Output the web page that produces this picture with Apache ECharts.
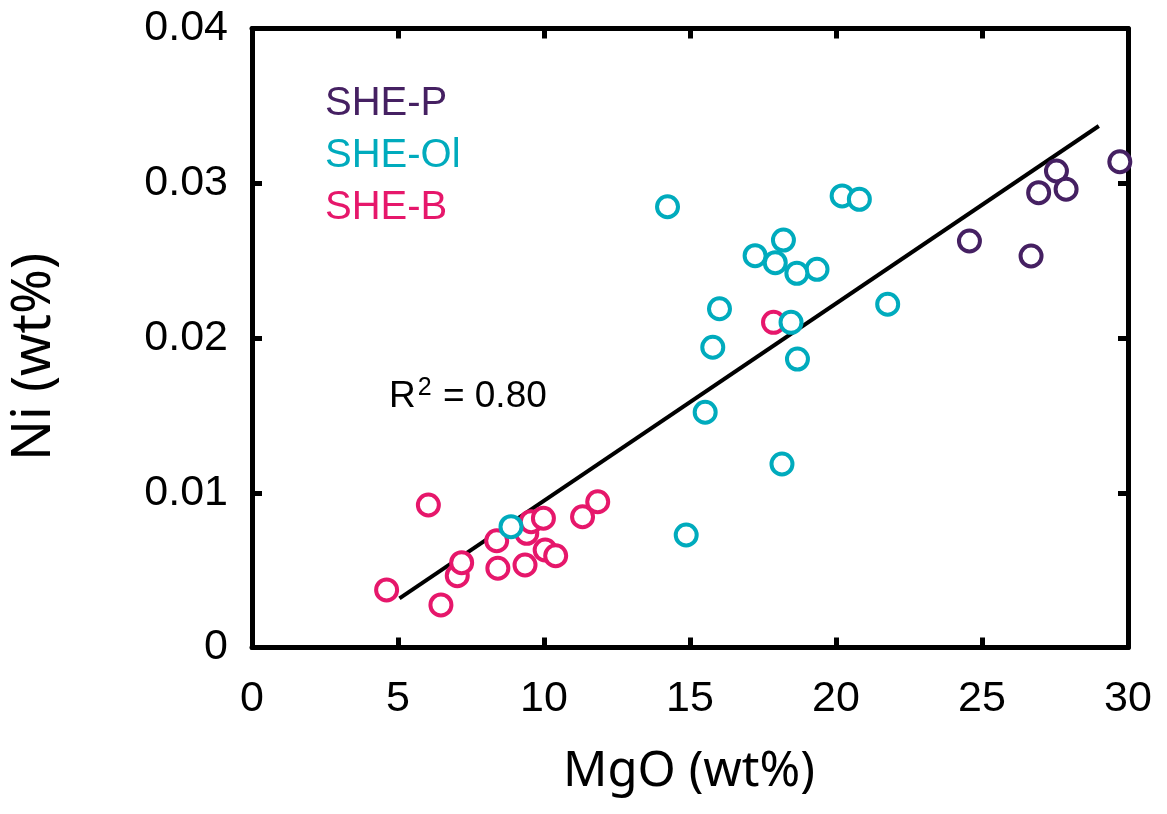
<!DOCTYPE html>
<html>
<head>
<meta charset="utf-8">
<title>Ni vs MgO</title>
<script src="https://cdn.jsdelivr.net/npm/echarts@6/dist/echarts.min.js"></script>
<style>
  html, body { margin: 0; padding: 0; background: #fff; }
  #chart { width: 1167px; height: 814px; }
</style>
</head>
<body>
<div id="chart"></div>
<script>
// MgO (wt%) / Ni (wt%)
const shePMgO = [24.57, 26.68, 26.94, 27.55, 27.88, 29.72]
const shePNi = [0.02627, 0.02530, 0.02939, 0.03079, 0.02961, 0.03139]

const sheBMgO = [4.61, 6.04, 6.47, 7.03, 7.18, 8.42, 8.38, 9.35, 9.41, 9.56, 9.98, 10.04, 10.40, 11.32, 11.84, 17.86]
const sheBNi = [0.00372, 0.00921, 0.00275, 0.00464, 0.00548, 0.00512, 0.00690, 0.00533, 0.00738, 0.00813, 0.00835, 0.00630, 0.00593, 0.00845, 0.00942, 0.02101]

const sheOlMgO = [8.87, 14.23, 14.87, 15.52, 15.78, 16.01, 17.23, 17.92, 18.20, 19.35, 18.66, 18.15, 18.68, 18.46, 20.21, 20.80, 21.77]
const sheOlNi = [0.00781, 0.02848, 0.00727, 0.01520, 0.01940, 0.02189, 0.02532, 0.02487, 0.02633, 0.02444, 0.02418, 0.01186, 0.01864, 0.02101, 0.02918, 0.02896, 0.02218]

// regression line end points
const fitMgO = [5.05, 29.0]
const fitNi = [0.00318, 0.0337]

const xTicks = [0, 5, 10, 15, 20, 25, 30]
const yTicks = [0, 0.01, 0.02, 0.03, 0.04]

const groupNames = ['SHE-P', 'SHE-Ol', 'SHE-B']
const groupColors = ['#452062', '#00abbd', '#e6176b']

function zip(xs, ys) {
  const out = []
  for (let i = 0; i < xs.length; i++) out.push([xs[i], ys[i]])
  return out
}

const myChart = echarts.init(document.getElementById('chart'), null, { renderer: 'canvas' })

const tickFont = { fontFamily: 'Liberation Sans, Arial, sans-serif', fontSize: 43, color: '#000' }

function axisBase(extra) {
  return Object.assign({
    type: 'value',
    axisLine: { show: true, onZero: false, lineStyle: { color: '#000', width: 5 } },
    axisTick: { show: true, inside: true, length: 10, lineStyle: { color: '#000', width: 5 } },
    splitLine: { show: false }
  }, extra)
}

function scatterSeries(name, data, color) {
  return {
    name: name,
    type: 'scatter',
    data: data,
    symbol: 'circle',
    symbolSize: 21,
    itemStyle: { color: '#fff', borderColor: color, borderWidth: 4, opacity: 1 },
    emphasis: { disabled: true },
    z: 3
  }
}

let option = {
  animation: false,
  backgroundColor: '#fff',
  grid: { left: 252, right: 39, top: 28.5, bottom: 166.5, containLabel: false },
  xAxis: [
    axisBase({
      min: 0, max: 30, interval: 5, position: 'bottom',
      axisLabel: Object.assign({ margin: 30, formatter: v => xTicks.includes(v) ? String(v) : '' }, tickFont)
    }),
    axisBase({ min: 0, max: 30, interval: 5, position: 'top', axisLabel: { show: false } })
  ],
  yAxis: [
    axisBase({
      min: 0, max: 0.04, interval: 0.01, position: 'left',
      axisLabel: Object.assign({ margin: 24, formatter: v => {
        const t = yTicks.find(k => Math.abs(k - v) < 1e-9)
        return t === undefined ? '' : (t === 0 ? '0' : t.toFixed(2))
      } }, tickFont)
    }),
    axisBase({ min: 0, max: 0.04, interval: 0.01, position: 'right', axisLabel: { show: false } })
  ],
  series: [
    {
      type: 'line',
      data: zip(fitMgO, fitNi),
      symbol: 'none',
      lineStyle: { color: '#000', width: 4 },
      emphasis: { disabled: true },
      z: 2
    },
    scatterSeries(groupNames[0], zip(shePMgO, shePNi), groupColors[0]),
    scatterSeries(groupNames[2], zip(sheBMgO, sheBNi), groupColors[2]),
    scatterSeries(groupNames[1], zip(sheOlMgO, sheOlNi), groupColors[1])
  ],
  graphic: [
    // group labels
    { type: 'text', left: 325, top: 84, style: { text: groupNames[0], fill: groupColors[0], font: '40px Liberation Sans, Arial, sans-serif' } },
    { type: 'text', left: 325, top: 136, style: { text: groupNames[1], fill: groupColors[1], font: '40px Liberation Sans, Arial, sans-serif' } },
    { type: 'text', left: 325, top: 188, style: { text: groupNames[2], fill: groupColors[2], font: '40px Liberation Sans, Arial, sans-serif' } },
    {
      type: 'text', left: 389, top: 376,
      style: {
        text: '{a|R}{s|2}{a| = 0.80}',
        rich: {
          a: { fontFamily: 'Liberation Sans, Arial, sans-serif', fontSize: 37, fill: '#000', verticalAlign: 'bottom' },
          s: { fontFamily: 'Liberation Sans, Arial, sans-serif', fontSize: 25, fill: '#000', verticalAlign: 'top', padding: [0, 1, 14, 2] }
        }
      }
    },
    // axis titles
    {
      type: 'text', x: 689, y: 772,
      style: { text: 'MgO (wt%)', fill: '#000', font: '49px Noto Sans, Open Sans, sans-serif', align: 'center', verticalAlign: 'middle' }
    },
    {
      type: 'text', x: 35, y: 357, rotation: Math.PI / 2,
      style: { text: 'Ni (wt%)', fill: '#000', font: '54px Noto Sans, Open Sans, sans-serif', align: 'center', verticalAlign: 'middle' }
    }
  ]
}

myChart.setOption(option)
</script>
</body>
</html>
